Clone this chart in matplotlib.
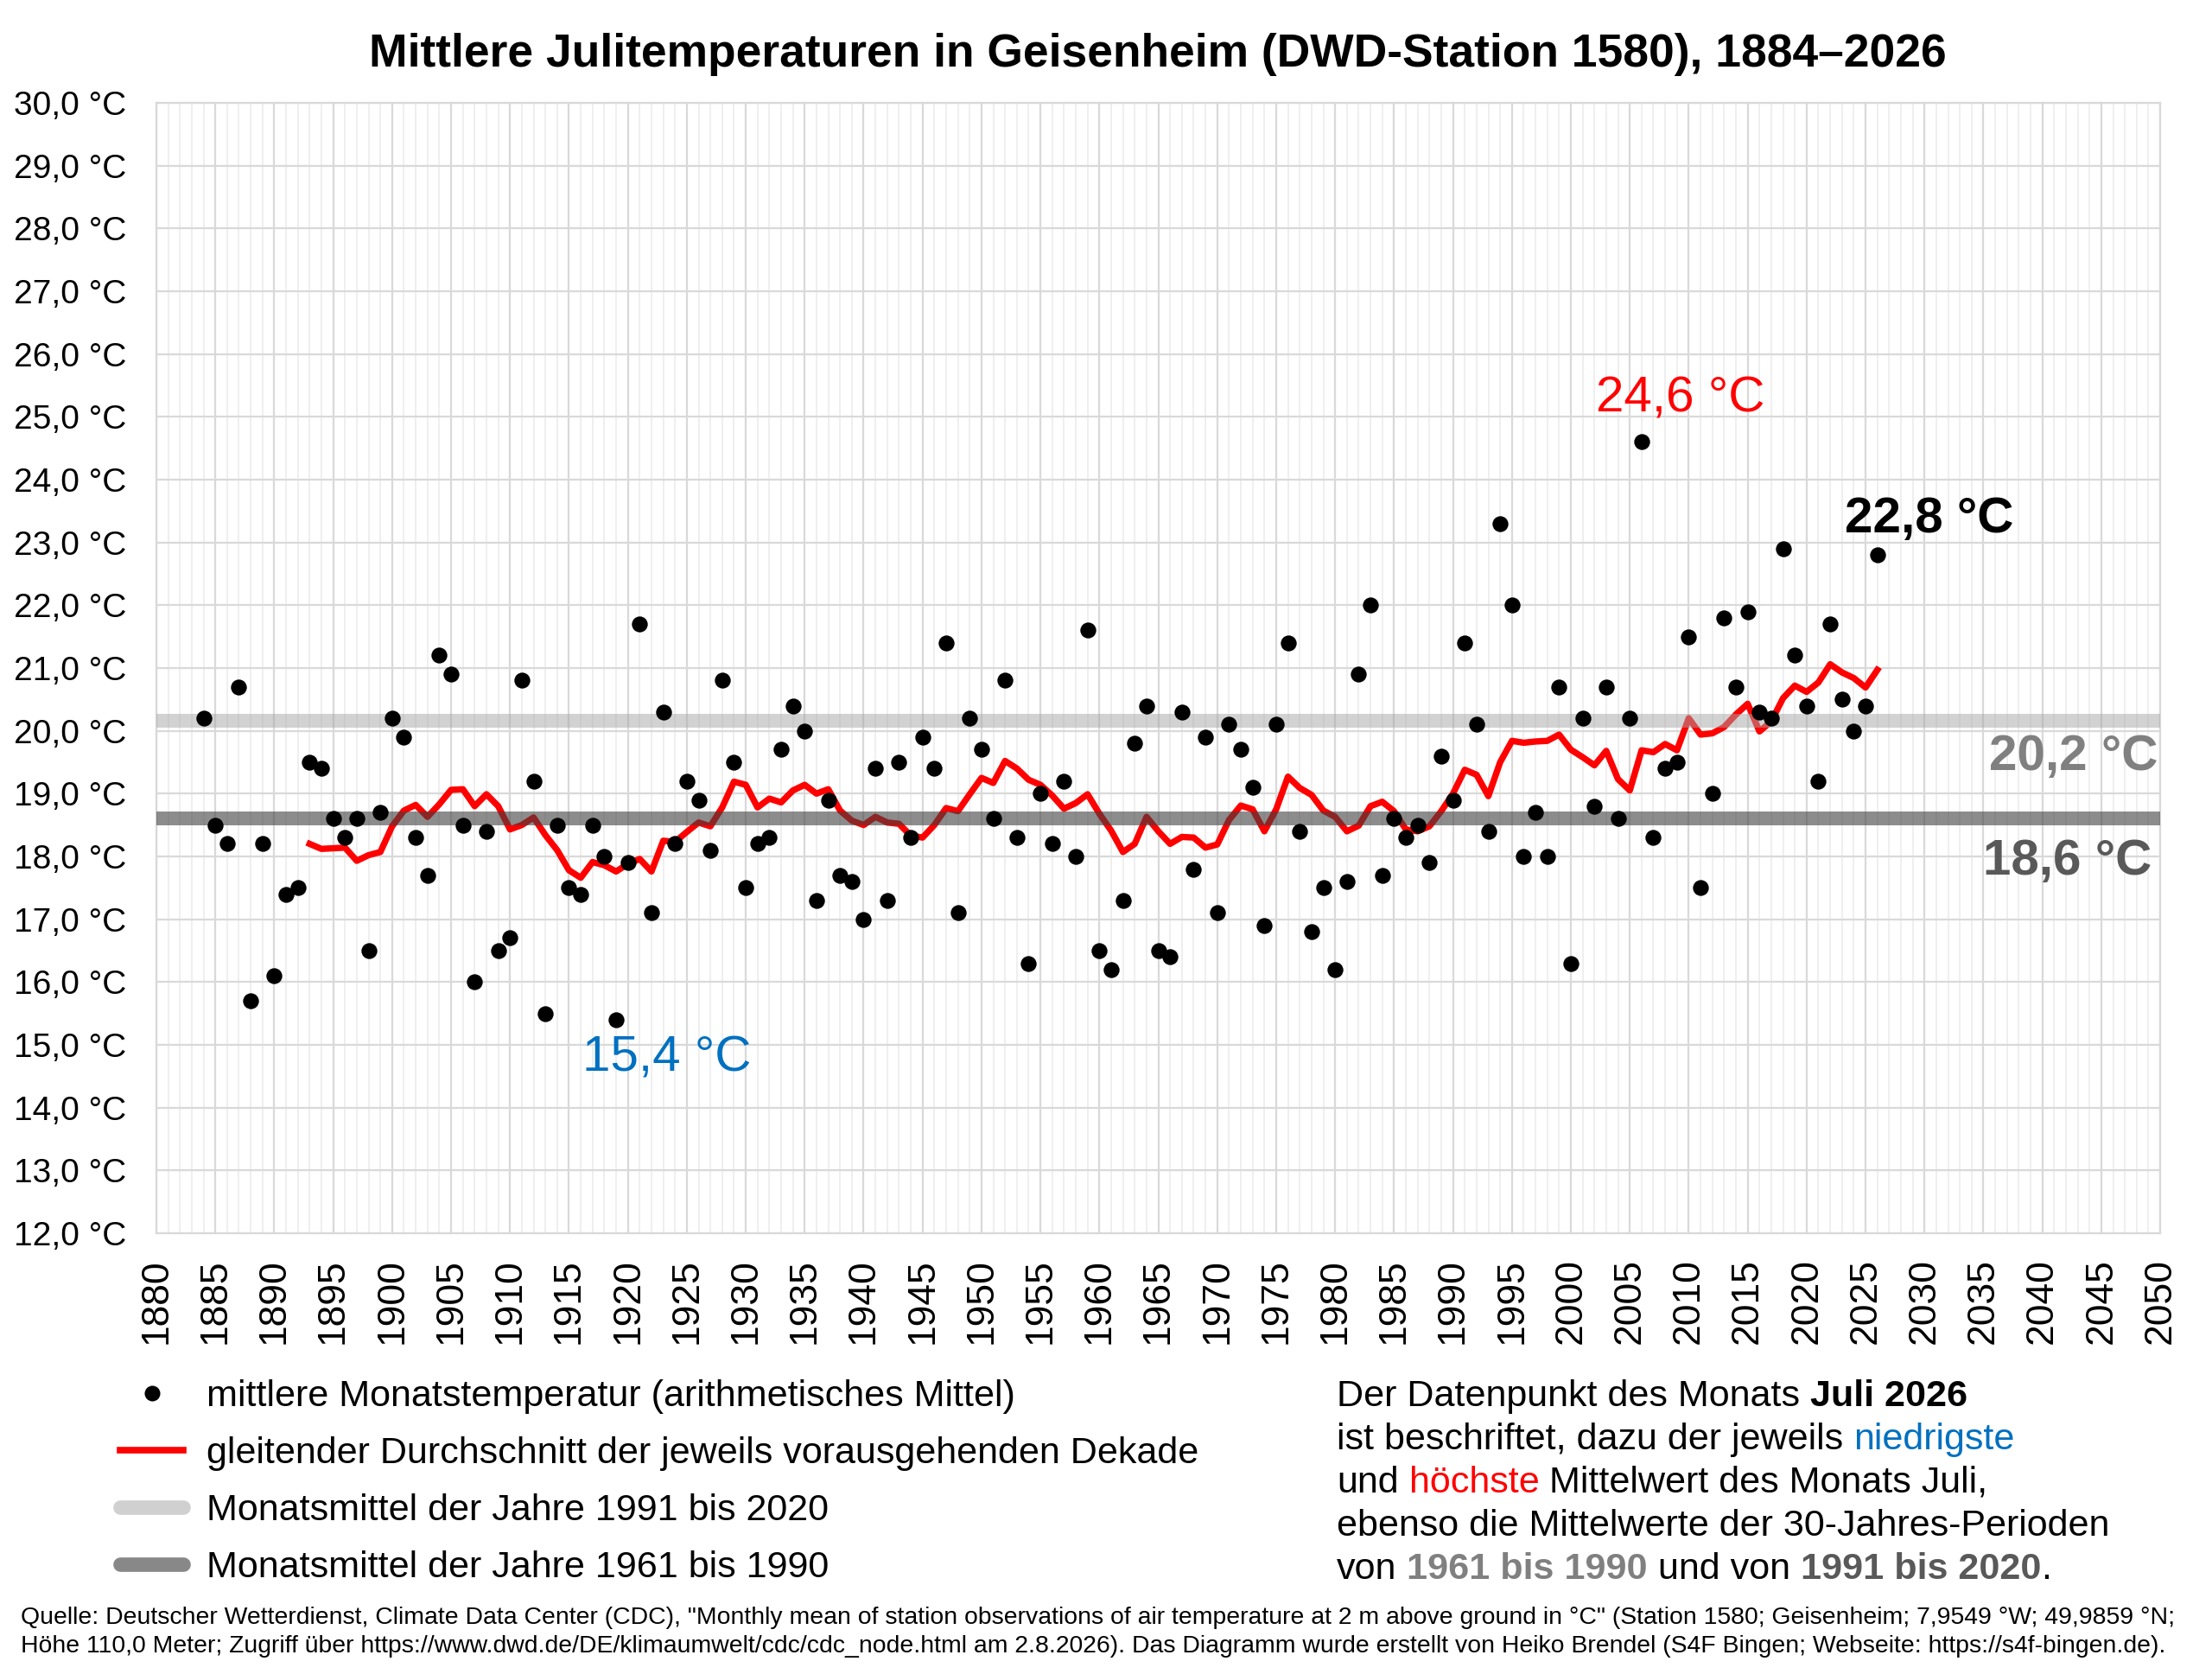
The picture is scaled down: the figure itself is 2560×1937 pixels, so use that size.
import matplotlib
matplotlib.use("Agg")
import matplotlib.pyplot as plt
import numpy as np
from matplotlib.lines import Line2D

plt.rcParams['font.family'] = ['Liberation Sans', 'DejaVu Sans']

## Daten: mittlere Julitemperatur Geisenheim 1884-2026
jahre = np.arange(1884, 2027)
temperatur = [
    20.2, 18.5, 18.2, 20.7, 15.7, 18.2, 16.1, 17.4, 17.5, 19.5,   # 1884-1893
    19.4, 18.6, 18.3, 18.6, 16.5, 18.7, 20.2, 19.9, 18.3, 17.7,   # 1894-1903
    21.2, 20.9, 18.5, 16.0, 18.4, 16.5, 16.7, 20.8, 19.2, 15.5,   # 1904-1913
    18.5, 17.5, 17.4, 18.5, 18.0, 15.4, 17.9, 21.7, 17.1, 20.3,   # 1914-1923
    18.2, 19.2, 18.9, 18.1, 20.8, 19.5, 17.5, 18.2, 18.3, 19.7,   # 1924-1933
    20.4, 20.0, 17.3, 18.9, 17.7, 17.6, 17.0, 19.4, 17.3, 19.5,   # 1934-1943
    18.3, 19.9, 19.4, 21.4, 17.1, 20.2, 19.7, 18.6, 20.8, 18.3,   # 1944-1953
    16.3, 19.0, 18.2, 19.2, 18.0, 21.6, 16.5, 16.2, 17.3, 19.8,   # 1954-1963
    20.4, 16.5, 16.4, 20.3, 17.8, 19.9, 17.1, 20.1, 19.7, 19.1,   # 1964-1973
    16.9, 20.1, 21.4, 18.4, 16.8, 17.5, 16.2, 17.6, 20.9, 22.0,   # 1974-1983
    17.7, 18.6, 18.3, 18.5, 17.9, 19.6, 18.9, 21.4, 20.1, 18.4,   # 1984-1993
    23.3, 22.0, 18.0, 18.7, 18.0, 20.7, 16.3, 20.2, 18.8, 20.7,   # 1994-2003
    18.6, 20.2, 24.6, 18.3, 19.4, 19.5, 21.5, 17.5, 19.0, 21.8,   # 2004-2013
    20.7, 21.9, 20.3, 20.2, 22.9, 21.2, 20.4, 19.2, 21.7, 20.5,   # 2014-2023
    20.0, 20.4, 22.8,                                             # 2024-2026
]

## gleitender Durchschnitt der vorausgehenden Dekade
jahre_mittel = np.arange(1893, 2027)
dekadenmittel = [
    18.20, 18.12, 18.13, 18.14, 17.93, 18.02, 18.07, 18.48, 18.73, 18.82,  # 1893-1902
    18.63, 18.83, 19.06, 19.07, 18.80, 18.99, 18.80, 18.43, 18.50, 18.62,  # 1903-1912
    18.34, 18.10, 17.78, 17.66, 17.91, 17.86, 17.76, 17.88, 17.96, 17.76,  # 1913-1922
    18.25, 18.23, 18.39, 18.54, 18.48, 18.78, 19.19, 19.14, 18.78, 18.92,  # 1923-1932
    18.86, 19.05, 19.14, 19.00, 19.07, 18.73, 18.57, 18.50, 18.63, 18.54,  # 1933-1942
    18.52, 18.33, 18.30, 18.50, 18.77, 18.72, 18.99, 19.25, 19.17, 19.52,  # 1943-1952
    19.40, 19.22, 19.14, 18.97, 18.76, 18.85, 18.99, 18.68, 18.41, 18.07,  # 1953-1962
    18.20, 18.63, 18.40, 18.20, 18.31, 18.30, 18.14, 18.19, 18.58, 18.81,  # 1963-1972
    18.75, 18.40, 18.75, 19.27, 19.09, 18.98, 18.73, 18.63, 18.40, 18.49,  # 1973-1982
    18.80, 18.87, 18.72, 18.43, 18.40, 18.48, 18.72, 19.00, 19.38, 19.30,  # 1983-1992
    18.96, 19.50, 19.84, 19.81, 19.83, 19.84, 19.94, 19.70, 19.58, 19.45,  # 1993-2002
    19.68, 19.23, 19.05, 19.69, 19.66, 19.79, 19.69, 20.20, 19.94, 19.96,  # 2003-2012
    20.06, 20.26, 20.43, 19.99, 20.15, 20.52, 20.72, 20.62, 20.77, 21.06,  # 2013-2022
    20.93, 20.84, 20.69, 20.97,                                            # 2023-2026
]

## 30-Jahres-Mittel
mittel_1991_2020 = 20.16
mittel_1961_1990 = 18.60

hell = '#a6a6a6'
dunkel = '#404040'

fig = plt.figure(figsize=(25.6, 19.37), dpi=100)
ax = fig.add_axes([0.0707, 0.2633, 0.9059, 0.6753])

ax.plot(jahre_mittel, dekadenmittel, color='#ff0000', lw=5.3, zorder=2)
ax.axhline(mittel_1991_2020, color=hell, alpha=0.5, lw=11.5, zorder=3)
ax.axhline(mittel_1961_1990, color=dunkel, alpha=0.6, lw=11.5, zorder=3)
ax.scatter(jahre, temperatur, s=175, color='black', zorder=4, linewidths=0)

ax.set_xlim(1880, 2050)
ax.set_ylim(12, 30)
ax.set_xticks(np.arange(1880, 2051, 5))
ax.set_xticks(np.arange(1880, 2051, 1), minor=True)
ax.set_yticks(np.arange(12, 31, 1))
ax.set_yticklabels([f"{v:.1f}".replace('.', ',') + " °C" for v in np.arange(12, 31, 1)])
ax.tick_params(axis='x', which='major', labelrotation=90, labelsize=32, length=0, pad=21)
ax.tick_params(axis='y', labelsize=28, length=0, pad=25)
ax.tick_params(which='minor', length=0)
ax.set_axisbelow(True)
ax.grid(which='major', color='#d9d9d9', lw=1.6)
ax.grid(which='minor', axis='x', color='#efefef', lw=1.4)
for s in ax.spines.values():
    s.set_color('#d9d9d9')
    s.set_linewidth(1.6)

fig.text(0.5234, 0.9675, "Mittlere Julitemperaturen in Geisenheim (DWD-Station 1580), 1884–2026",
         ha='center', va='center', fontsize=38.4, fontweight='bold')

## Beschriftungen im Diagramm
ax.text(2009.3, 25.29, "24,6 °C", color='#ff0000', fontsize=42, ha='center', va='center')
ax.text(2030.4, 23.37, "22,8 °C", color='black', fontsize=42, fontweight='bold', ha='center', va='center')
ax.text(2049.8, 19.58, "20,2 °C", color='#808080', fontsize=42, fontweight='bold', ha='right', va='center')
ax.text(2049.3, 17.92, "18,6 °C", color='#595959', fontsize=42, fontweight='bold', ha='right', va='center')
ax.text(1923.3, 14.79, "15,4 °C", color='#0070c0', fontsize=42, ha='center', va='center')

## Legende
handles = [
    Line2D([], [], ls='none', marker='o', markersize=13, color='black', markeredgewidth=0),
    Line2D([], [], color='#ff0000', lw=5.5),
    Line2D([], [], color='#d0d0d0', lw=12, solid_capstyle='round'),
    Line2D([], [], color='#888888', lw=12, solid_capstyle='round'),
]
labels = [
    "mittlere Monatstemperatur (arithmetisches Mittel)",
    "gleitender Durchschnitt der jeweils vorausgehenden Dekade",
    "Monatsmittel der Jahre 1991 bis 2020",
    "Monatsmittel der Jahre 1961 bis 1990",
]
ax.legend(handles, labels, loc='upper left', bbox_to_anchor=(0.0543, 0.176),
          bbox_transform=fig.transFigure, frameon=False, fontsize=31.1,
          handlelength=1.69, handletextpad=0.62, labelspacing=0.6, borderpad=0, borderaxespad=0)

## Erklaerungstext rechts
gap = 8.6
groesse = 31.1
zeilen = [
    [("Der Datenpunkt des Monats", 'black', 'normal'), ("Juli 2026", 'black', 'bold')],
    [("ist beschriftet, dazu der jeweils", 'black', 'normal'), ("niedrigste", '#0070c0', 'normal')],
    [("und", 'black', 'normal'), ("höchste", '#ff0000', 'normal'),
     ("Mittelwert des Monats Juli,", 'black', 'normal')],
    [("ebenso die Mittelwerte der 30-Jahres-Perioden", 'black', 'normal')],
    [("von", 'black', 'normal'), ("1961 bis 1990", '#808080', 'bold'),
     ("und von", 'black', 'normal'), ("1991 bis 2020", '#595959', 'bold')],
]
y0 = 1 - 1627 / 1937
for i, zeile in enumerate(zeilen):
    y = y0 - i * 50 / 1937
    prev = None
    for txt, col, w in zeile:
        if prev is None:
            prev = fig.text(0.6043, y, txt, color=col, fontweight=w, fontsize=groesse, ha='left', va='baseline')
        else:
            prev = ax.annotate(txt, xy=(1, 0), xycoords=prev, xytext=(gap, 0), textcoords='offset points',
                               color=col, fontweight=w, fontsize=groesse, ha='left', va='bottom',
                               annotation_clip=False)
    if i == 4:
        ax.annotate(".", xy=(1, 0), xycoords=prev, xytext=(0, 0), textcoords='offset points',
                    fontsize=groesse, ha='left', va='bottom', annotation_clip=False)

## Quelle
fig.text(0.0094, 1 - 1879 / 1937,
         'Quelle: Deutscher Wetterdienst, Climate Data Center (CDC), "Monthly mean of station observations of air temperature at 2 m above ground in °C" (Station 1580; Geisenheim; 7,9549 °W; 49,9859 °N;',
         fontsize=20.45, ha='left', va='baseline')
fig.text(0.0094, 1 - 1912 / 1937,
         'Höhe 110,0 Meter; Zugriff über https://www.dwd.de/DE/klimaumwelt/cdc/cdc_node.html am 2.8.2026). Das Diagramm wurde erstellt von Heiko Brendel (S4F Bingen; Webseite: https://s4f-bingen.de).',
         fontsize=20.45, ha='left', va='baseline')

fig.savefig("out.png", dpi=100)
